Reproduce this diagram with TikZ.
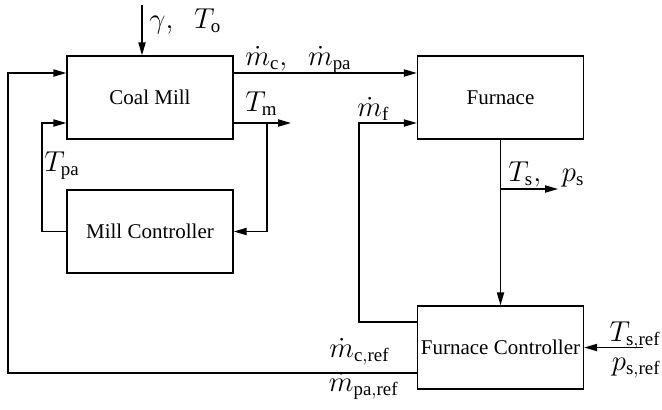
\documentclass[tikz,border=0pt]{standalone}
\usepackage{fontspec}
\setmainfont{Liberation Serif}
\usetikzlibrary{arrows.meta,calc}
\tikzset{
  blk/.style={draw,line width=0.7pt,minimum width=83pt,minimum height=41.5pt,inner sep=0pt,font=\fontsize{10.5}{12}\selectfont},
  conn/.style={line width=0.7pt},
  arr/.style={conn,-{Triangle[length=6.5pt,width=3.6pt]}},
  lbl/.style={inner sep=0pt,anchor=base west,font=\fontsize{13.5}{15}\selectfont}
}
\begin{document}
\begin{tikzpicture}[x=0.5pt,y=-0.5pt]
\useasboundingbox (0,0) rectangle (662,409);
\node[blk] (cm) at (150,97.5) {Coal Mill};
\node[blk] (mc) at (150,231.5) {Mill Controller};
\node[blk] (fu) at (500.5,97.5) {Furnace};
\node[blk] (fc) at (500.5,347.5) {Furnace Controller};
% inputs
\coordinate (g) at (142,5);
\draw[arr] (g) -- (g |- cm.north);
\node[lbl] (lg) at (149,28) {$\gamma,\;\;T_{\mathrm{o}}$};
% coal flow
\draw[arr] ($(cm.east)+(0,-24.5)$) -- ($(fu.west)+(0,-24.5)$);
\node[lbl] (lmc) at (245,65) {$\dot m_{\mathrm{c}},\;\;\dot m_{\mathrm{pa}}$};
% T_m
\coordinate (tm) at (291,123);
\coordinate (tmj) at (267,123);
\draw[arr] ($(cm.east)+(0,25.5)$) -- (tm);
\draw[arr] (tmj) |- (mc.east);
\node[lbl] (ltm) at (245,111) {$T_{\mathrm{m}}$};
% T_pa
\coordinate (tpa) at (42,123);
\draw[arr] (mc.west) -| (tpa) -- ($(cm.west)+(0,25.5)$);
\node[lbl] (ltpa) at (44,171) {$T_{\mathrm{pa}}$};
% outer loop
\coordinate (ol) at (8,73);
\draw[arr] ($(fc.west)+(0,25.5)$) -| (ol) -- ($(cm.west)+(0,-24.5)$);
\node[lbl,anchor=base east] (lmcr) at (390,357) {$\dot m_{\mathrm{c,ref}}$};
\node[lbl,anchor=base east] (lmpr) at (399,391) {$\dot m_{\mathrm{pa,ref}}$};
% m_f
\coordinate (mf) at (359,123);
\draw[arr] ($(fc.west)+(0,-25.5)$) -| (mf) -- ($(fu.west)+(0,25.5)$);
\node[lbl] (lmf) at (357,116) {$\dot m_{\mathrm{f}}$};
% furnace to controller
\draw[arr] (fu.south) -- (fc.north);
\coordinate (tsj) at (fu.south |- 0,189);
\coordinate (ts) at (558,189);
\draw[arr] (tsj) -- (ts);
\node[lbl] (lts) at (508,181) {$T_{\mathrm{s}},\;\;p_{\mathrm{s}}$};
% references
\coordinate (rf) at (643,347.5);
\draw[arr] (rf) -- (fc.east);
\node[lbl,anchor=base east] (ltsr) at (661,341) {$T_{\mathrm{s,ref}}$};
\node[lbl,anchor=base east] (lpsr) at (661,370) {$p_{\mathrm{s,ref}}$};
\end{tikzpicture}
\end{document}
